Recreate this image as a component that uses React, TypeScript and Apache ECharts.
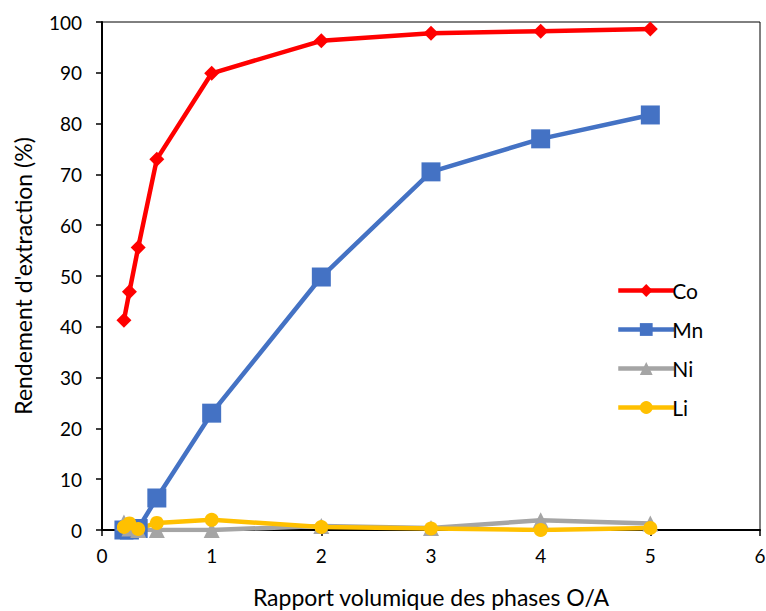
import React, { useEffect, useRef } from "react";
import * as echarts from "echarts";

const coX = [0.2, 0.25, 0.33, 0.5, 1, 2, 3, 4, 5];
const coY = [41.3, 46.9, 55.6, 73.0, 89.9, 96.3, 97.8, 98.2, 98.6];
const mnX = [0.2, 0.25, 0.33, 0.5, 1, 2, 3, 4, 5];
const mnY = [0.0, 0.0, 0.3, 6.3, 23.0, 49.8, 70.5, 77.0, 81.7];
const niX = [0.2, 0.25, 0.33, 0.5, 1, 2, 3, 4, 5];
const niY = [1.5, 0.3, 0.0, 0.0, 0.0, 0.8, 0.4, 1.9, 1.3];
const liX = [0.2, 0.25, 0.33, 0.5, 1, 2, 3, 4, 5];
const liY = [0.6, 1.3, 0.2, 1.4, 2.0, 0.6, 0.3, 0.0, 0.4];
const legendNames = ["Co", "Mn", "Ni", "Li"];

const pairs = (xs: number[], ys: number[]) => xs.map((x, i) => [x, ys[i]]);

const FONT = "Lato";

export default function App() {
  const ref = useRef<HTMLDivElement>(null);
  useEffect(() => {
    if (!ref.current) return;
    const chart = echarts.init(ref.current, null, { renderer: "svg" });
    const mk = (name: string, xs: number[], ys: number[], color: string, symbol: string, size: number) => ({
      name,
      type: "line",
      data: pairs(xs, ys),
      symbol,
      symbolSize: size,
      lineStyle: { color, width: 4.5 },
      itemStyle: { color },
      emphasis: { disabled: true },
    });
    chart.setOption({
      animation: false,
      textStyle: { fontFamily: FONT },
      grid: {
        left: 102,
        right: 6,
        top: 22,
        bottom: 81,
        show: true,
        borderColor: "#000",
        borderWidth: 1,
        containLabel: false,
        outerBoundsMode: "none",
      },
      legend: {
        left: 611,
        top: 275,
        orient: "vertical",
        itemWidth: 56,
        itemHeight: 16,
        itemGap: 18,
        lineStyle: { width: 4.5 },
        textStyle: { fontSize: 21, color: "#000", fontFamily: FONT, padding: [0, 0, 0, -7] },
        data: legendNames.map((n) => ({ name: n, lineStyle: { width: 4.5 } })),
      },
      xAxis: {
        type: "value",
        min: 0,
        max: 6,
        interval: 1,
        name: "Rapport volumique des phases O/A",
        nameLocation: "middle",
        nameGap: 54,
        nameTextStyle: { fontSize: 23, lineHeight: 26, color: "#000", fontFamily: FONT },
        axisLine: { show: true, onZero: false, lineStyle: { color: "#000", width: 2 } },
        axisTick: { show: true, length: 6, lineStyle: { color: "#000", width: 1.5 } },
        axisLabel: { fontSize: 19, color: "#000", margin: 16, fontFamily: FONT },
        splitLine: { show: false },
      },
      yAxis: {
        type: "value",
        min: 0,
        max: 100,
        interval: 10,
        name: "Rendement d'extraction (%)",
        nameLocation: "middle",
        nameGap: 68,
        nameTextStyle: { fontSize: 23, color: "#000", fontFamily: FONT },
        axisLine: { show: true, onZero: false, lineStyle: { color: "#000", width: 2 } },
        axisTick: { show: true, length: 6, lineStyle: { color: "#000", width: 1.5 } },
        axisLabel: { fontSize: 19, color: "#000", margin: 20, fontFamily: FONT },
        splitLine: { show: false },
      },
      series: [
        mk("Co", coX, coY, "#FF0000", "diamond", 15),
        mk("Mn", mnX, mnY, "#4472C4", "rect", 19),
        mk("Ni", niX, niY, "#A5A5A5", "triangle", 16),
        mk("Li", liX, liY, "#FFC000", "circle", 14),
      ],
    });
    return () => chart.dispose();
  }, []);
  return <div ref={ref} style={{ width: 766, height: 611, position: "absolute", left: 0, top: 0 }} />;
}
